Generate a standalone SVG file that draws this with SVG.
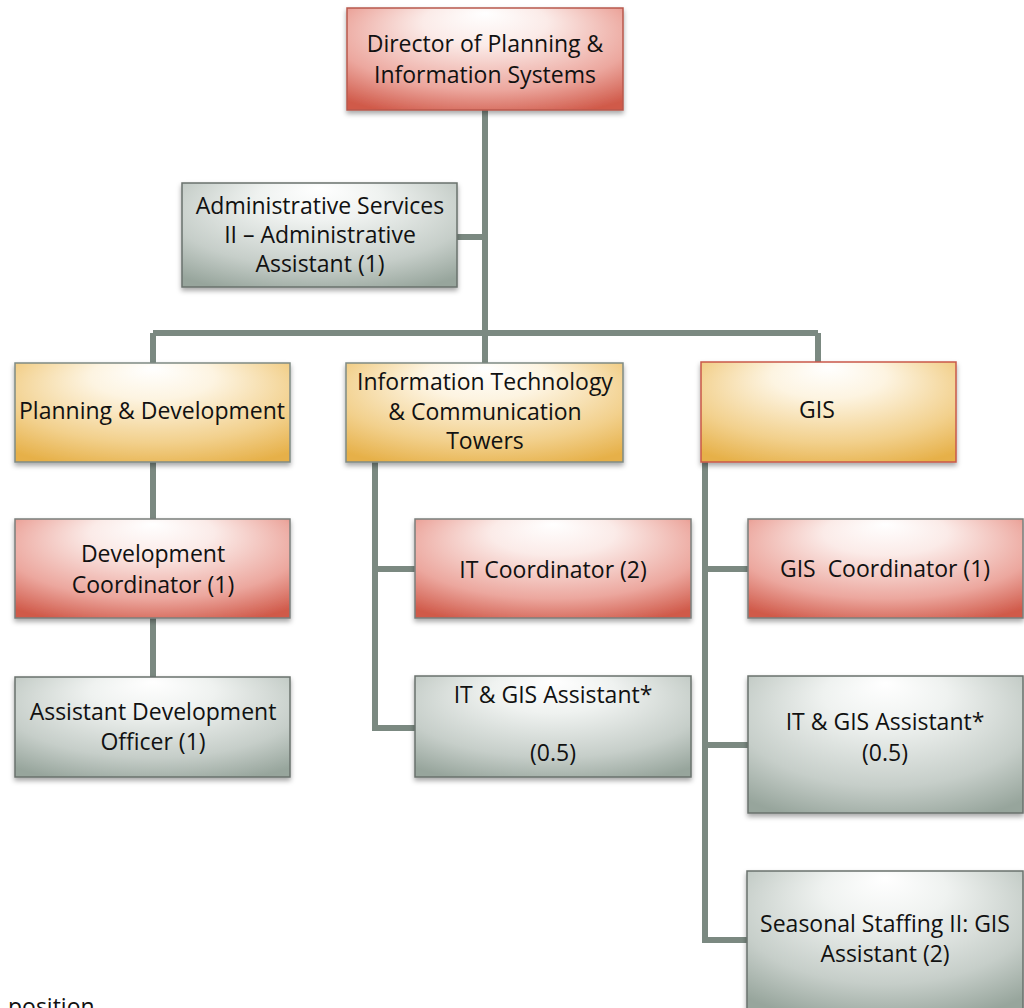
<svg xmlns="http://www.w3.org/2000/svg" width="1024" height="1008" viewBox="0 0 1024 1008">
<defs>
<radialGradient id="gRed" cx="0.5" cy="0.35" r="0.75" fx="0.5" fy="0.05">
<stop offset="0" stop-color="#ffffff"/>
<stop offset="0.3" stop-color="#fbebe8"/>
<stop offset="0.72" stop-color="#eca79e"/>
<stop offset="1" stop-color="#d05a4a"/>
</radialGradient>
<radialGradient id="gGold" cx="0.5" cy="0.35" r="0.75" fx="0.5" fy="0.05">
<stop offset="0" stop-color="#ffffff"/>
<stop offset="0.3" stop-color="#fdf4e1"/>
<stop offset="0.72" stop-color="#f2d08c"/>
<stop offset="1" stop-color="#e6b048"/>
</radialGradient>
<radialGradient id="gGray" cx="0.5" cy="0.35" r="0.75" fx="0.5" fy="0.05">
<stop offset="0" stop-color="#ffffff"/>
<stop offset="0.3" stop-color="#eff2f0"/>
<stop offset="0.72" stop-color="#c6cec9"/>
<stop offset="1" stop-color="#97a59c"/>
</radialGradient>
<filter id="sh" x="-10%" y="-10%" width="120%" height="130%">
<feDropShadow dx="0" dy="3" stdDeviation="2.5" flood-color="#000" flood-opacity="0.35"/>
</filter>
</defs>
<style>
.box{stroke-width:1.5;filter:url(#sh)}
.red{fill:url(#gRed);stroke:#b8584c}
.gold{fill:url(#gGold);stroke:#7f8a84}
.goldr{fill:url(#gGold);stroke:#c9584a}
.gray{fill:url(#gGray);stroke:#6a726d}
.redg{fill:url(#gRed);stroke:#7a7f7c}
text{font-family:"Open Sans","Liberation Sans",sans-serif;font-size:23px;fill:#111;text-anchor:middle}
.conn path{fill:none;stroke:#7b8981;stroke-width:6}
</style>
<rect width="1024" height="1008" fill="#ffffff"/>
<g class="conn" id="connectors">
<path d="M485 110 V363"/>
<path d="M457 237 H485"/>
<path d="M153 333 H818"/>
<path d="M153 333 V363"/>
<path d="M818 333 V363"/>
<path d="M153 462 V519"/>
<path d="M153 618 V677"/>
<path d="M375 462 V728 H415"/>
<path d="M375 569 H415"/>
<path d="M705 462 V940 H747"/>
<path d="M705 569 H748"/>
<path d="M705 745 H748"/>
</g>
<g id="director">
<rect class="box red" x="347" y="8" width="276" height="102"/>
<text x="485" y="52">Director of Planning &amp;</text>
<text x="485" y="83">Information Systems</text>
</g>
<g id="admin">
<rect class="box gray" x="182" y="183" width="275" height="104"/>
<text x="320" y="214">Administrative Services</text>
<text x="320" y="243">II – Administrative</text>
<text x="320" y="272">Assistant (1)</text>
</g>
<g id="planning">
<rect class="box gold" x="15" y="363" width="275" height="99"/>
<text x="152" y="419">Planning &amp; Development</text>
</g>
<g id="itct">
<rect class="box gold" x="346" y="363" width="277" height="99"/>
<text x="485" y="390">Information Technology</text>
<text x="485" y="420">&amp; Communication</text>
<text x="485" y="449">Towers</text>
</g>
<g id="gis">
<rect class="box goldr" x="701" y="362" width="255" height="100"/>
<text x="817" y="418">GIS</text>
</g>
<g id="devcoord">
<rect class="box redg" x="15" y="519" width="275" height="99"/>
<text x="153" y="562">Development</text>
<text x="153" y="593">Coordinator (1)</text>
</g>
<g id="asstdev">
<rect class="box gray" x="15" y="677" width="275" height="100"/>
<text x="153" y="720">Assistant Development</text>
<text x="153" y="750">Officer (1)</text>
</g>
<g id="itcoord">
<rect class="box redg" x="415" y="519" width="276" height="99"/>
<text x="553" y="578">IT Coordinator (2)</text>
</g>
<g id="itgis1">
<rect class="box gray" x="415" y="676" width="276" height="101"/>
<text x="553" y="703">IT &amp; GIS Assistant*</text>
<text x="553" y="761">(0.5)</text>
</g>
<g id="giscoord">
<rect class="box redg" x="748" y="519" width="275" height="99"/>
<text x="885" y="577" xml:space="preserve">GIS  Coordinator (1)</text>
</g>
<g id="itgis2">
<rect class="box gray" x="748" y="676" width="275" height="137"/>
<text x="885" y="730">IT &amp; GIS Assistant*</text>
<text x="885" y="761">(0.5)</text>
</g>
<g id="seasonal">
<rect class="box gray" x="747" y="871" width="276" height="140"/>
<text x="885" y="932">Seasonal Staffing II: GIS</text>
<text x="885" y="962">Assistant (2)</text>
</g>
<text x="8" y="1015" style="text-anchor:start">position</text>
</svg>
